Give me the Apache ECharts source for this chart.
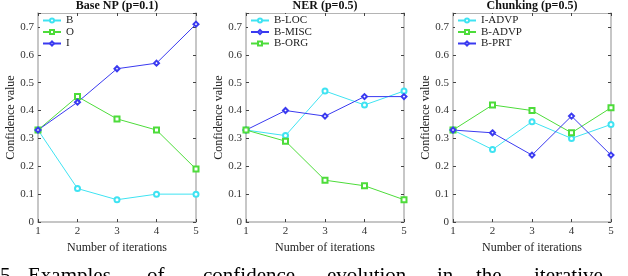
<!DOCTYPE html>
<html>
<head>
<meta charset="utf-8">
<script src="https://cdn.jsdelivr.net/npm/echarts@6/dist/echarts.min.js"></script>
<style>
  html, body { margin: 0; padding: 0; background: #fff; }
  #main { width: 628px; height: 276px; }
</style>
</head>
<body>
<div id="main"></div>
<script>
  var iterations = [1, 2, 3, 4, 5];
  var yTicks = [0, 0.1, 0.2, 0.3, 0.4, 0.5, 0.6, 0.7];

  var titles = ['Base NP (p=0.1)', 'NER (p=0.5)', 'Chunking (p=0.5)'];

  // Base NP
  var npB = [0.33, 0.12, 0.08, 0.10, 0.10];
  var npO = [0.33, 0.45, 0.37, 0.33, 0.19];
  var npI = [0.33, 0.43, 0.55, 0.57, 0.71];
  // NER
  var nerLoc = [0.33, 0.31, 0.47, 0.42, 0.47];
  var nerMisc = [0.33, 0.40, 0.38, 0.45, 0.45];
  var nerOrg = [0.33, 0.29, 0.15, 0.13, 0.08];
  // Chunking
  var chIAdvp = [0.33, 0.26, 0.36, 0.30, 0.35];
  var chBAdvp = [0.33, 0.42, 0.40, 0.32, 0.41];
  var chBPrt = [0.33, 0.32, 0.24, 0.38, 0.24];

  // caption below the figure, cut off by the image edge
  var captionWords = ['5.', 'Examples', 'of', 'confidence', 'evolution', 'in', 'the', 'iterative'];
  var captionX = [0, 28, 147, 203, 327, 437, 476, 534];

  var cyan = '#3fe3f2', green = '#4ddc3a', blue = '#3a3af0';
  var font = 'Liberation Serif';

  var panels = [
    { left: 38, names: ['B', 'O', 'I'], data: [npB, npO, npI], colors: [cyan, green, blue], symbols: ['emptyCircle', 'emptyRect', 'emptyDiamond'] },
    { left: 246, names: ['B-LOC', 'B-MISC', 'B-ORG'], data: [nerLoc, nerMisc, nerOrg], colors: [cyan, blue, green], symbols: ['emptyCircle', 'emptyDiamond', 'emptyRect'] },
    { left: 453, names: ['I-ADVP', 'B-ADVP', 'B-PRT'], data: [chIAdvp, chBAdvp, chBPrt], colors: [cyan, green, blue], symbols: ['emptyCircle', 'emptyRect', 'emptyDiamond'] }
  ];
  var gridW = 158, gridTop = 13, gridH = 209;

  var grids = [], xAxes = [], yAxes = [], series = [], legends = [], titleList = [];
  var lineColor = '#b4b4b4';

  panels.forEach(function (p, k) {
    grids.push({ left: p.left, top: gridTop, width: gridW, height: gridH });
    // bottom axis
    xAxes.push({
      gridIndex: k, type: 'value', min: 1, max: 5, interval: 1,
      name: 'Number of iterations', nameLocation: 'middle', nameGap: 16,
      nameTextStyle: { fontFamily: font, fontSize: 12, color: '#222' },
      axisLine: { lineStyle: { color: lineColor, width: 1.5 } },
      axisTick: { inside: true, length: 3, lineStyle: { color: '#444' } },
      axisLabel: { fontFamily: font, fontSize: 11, color: '#333', margin: 4 },
      splitLine: { show: false }
    });
    // top box edge
    xAxes.push({
      gridIndex: k, type: 'value', min: 1, max: 5, interval: 1, position: 'top',
      axisLine: { onZero: false, lineStyle: { color: lineColor, width: 1 } },
      axisTick: { inside: true, length: 3, lineStyle: { color: '#444' } },
      axisLabel: { show: false }, splitLine: { show: false }
    });
    yAxes.push({
      gridIndex: k, type: 'value', min: 0, max: 0.75, interval: 0.1,
      name: 'Confidence value', nameLocation: 'middle', nameGap: 19,
      nameTextStyle: { fontFamily: font, fontSize: 12, color: '#222' },
      axisLine: { show: true, lineStyle: { color: lineColor, width: 1.5 } },
      axisTick: { show: true, inside: true, length: 3, lineStyle: { color: '#444' } },
      axisLabel: {
        fontFamily: font, fontSize: 11, color: '#333', margin: 4,
        formatter: function (v) {
          var r = Math.round(v * 10) / 10;
          return Math.abs(v - r) < 1e-6 && yTicks.indexOf(r) >= 0 ? String(r) : '';
        }
      },
      splitLine: { show: false }
    });
    yAxes.push({
      gridIndex: k, type: 'value', min: 0, max: 0.75, interval: 0.1, position: 'right',
      axisLine: { show: true, onZero: false, lineStyle: { color: lineColor, width: 1.5 } },
      axisTick: { show: true, inside: true, length: 3, lineStyle: { color: '#444' } },
      axisLabel: { show: false }, splitLine: { show: false }
    });
    titleList.push({
      text: titles[k], left: p.left + gridW / 2, top: 0, padding: 0, textAlign: 'center',
      textStyle: { fontFamily: font, fontSize: 12, fontWeight: 'bold', color: '#111' }
    });
    p.names.forEach(function (n, j) {
      series.push({
        name: n, type: 'line', xAxisIndex: 2 * k, yAxisIndex: 2 * k,
        data: p.data[j].map(function (v, i) { return [iterations[i], v]; }),
        symbol: p.symbols[j], symbolSize: 5, showSymbol: true,
        itemStyle: { color: p.colors[j], borderWidth: 1 },
        lineStyle: { color: p.colors[j], width: 1 },
        emphasis: { disabled: true }, animation: false
      });
    });
    legends.push({
      data: p.names, orient: 'vertical', left: p.left + 2, top: gridTop + 1,
      itemWidth: 18, itemHeight: 5, itemGap: 0.5, padding: [1, 2],
      backgroundColor: '#fff',
      textStyle: { fontFamily: font, fontSize: 11, color: '#222' }
    });
  });

  var graphics = captionWords.map(function (w, i) {
    return {
      type: 'text', left: captionX[i], top: 266,
      style: { text: w, fontFamily: font, fontSize: 21, fill: '#000' }
    };
  });

  var chart = echarts.init(document.getElementById('main'));
  chart.setOption({
    animation: false,
    title: titleList,
    legend: legends,
    grid: grids,
    xAxis: xAxes,
    yAxis: yAxes,
    series: series,
    graphic: graphics
  });
</script>
</body>
</html>
